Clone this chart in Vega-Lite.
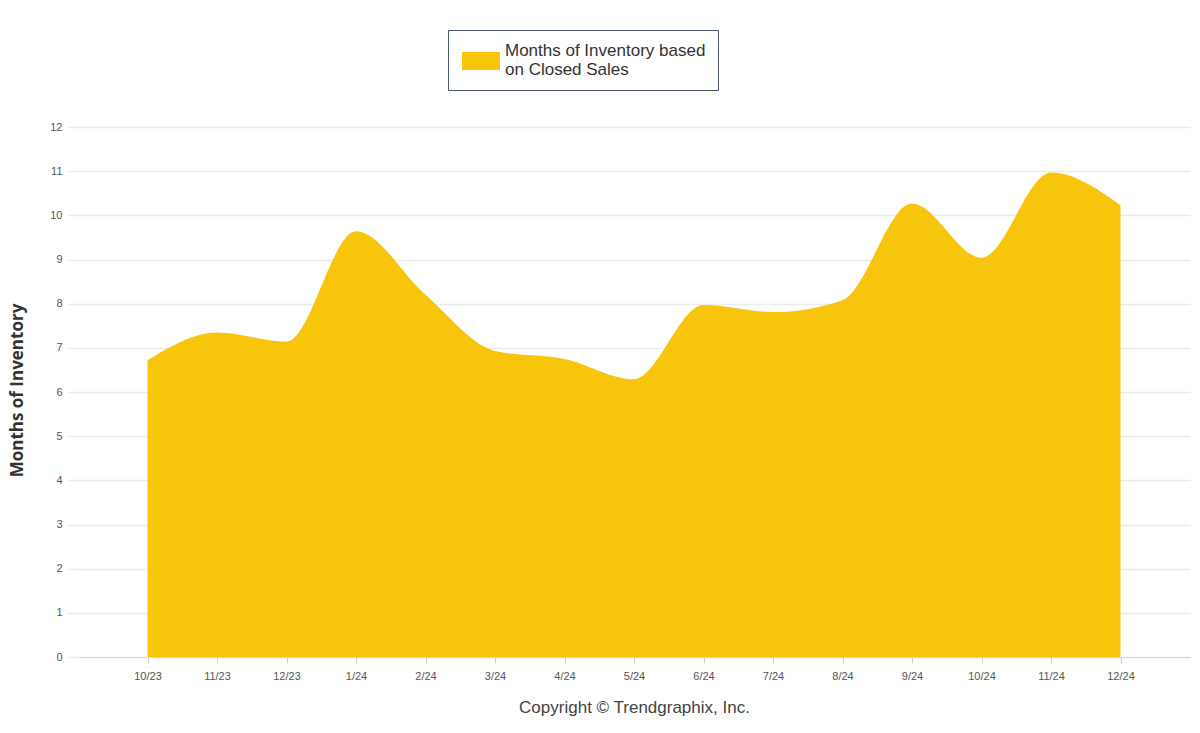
{
  "$schema": "https://vega.github.io/schema/vega-lite/v6.json",
  "width": 1112,
  "height": 530,
  "autosize": {"type": "none"},
  "padding": {"left": 78, "top": 127, "right": 10, "bottom": 76},
  "background": "white",
  "config": {"view": {"stroke": null}, "font": "Liberation Sans"},
  "data": {
    "values": [
      {"month": "10/23", "value": 6.72, "series": "Months of Inventory based on Closed Sales"},
      {"month": "11/23", "value": 7.35, "series": "Months of Inventory based on Closed Sales"},
      {"month": "12/23", "value": 7.14, "series": "Months of Inventory based on Closed Sales"},
      {"month": "1/24", "value": 9.64, "series": "Months of Inventory based on Closed Sales"},
      {"month": "2/24", "value": 8.2, "series": "Months of Inventory based on Closed Sales"},
      {"month": "3/24", "value": 6.93, "series": "Months of Inventory based on Closed Sales"},
      {"month": "4/24", "value": 6.75, "series": "Months of Inventory based on Closed Sales"},
      {"month": "5/24", "value": 6.29, "series": "Months of Inventory based on Closed Sales"},
      {"month": "6/24", "value": 7.97, "series": "Months of Inventory based on Closed Sales"},
      {"month": "7/24", "value": 7.81, "series": "Months of Inventory based on Closed Sales"},
      {"month": "8/24", "value": 8.08, "series": "Months of Inventory based on Closed Sales"},
      {"month": "9/24", "value": 10.27, "series": "Months of Inventory based on Closed Sales"},
      {"month": "10/24", "value": 9.04, "series": "Months of Inventory based on Closed Sales"},
      {"month": "11/24", "value": 10.97, "series": "Months of Inventory based on Closed Sales"},
      {"month": "12/24", "value": 10.23, "series": "Months of Inventory based on Closed Sales"}
    ]
  },
  "mark": {"type": "area", "interpolate": "monotone", "opacity": 1},
  "encoding": {
    "x": {
      "field": "month",
      "type": "ordinal",
      "sort": null,
      "scale": {"type": "point", "padding": 1.02},
      "axis": {
        "title": "Copyright © Trendgraphix, Inc.",
        "labelAngle": 0,
        "labelFontSize": 11,
        "labelColor": "#555555",
        "tickSize": 6,
        "tickColor": "#cccccc",
        "domainColor": "#d8d8d8",
        "labelPadding": 7,
        "titleFontSize": 17,
        "titleFontWeight": "normal",
        "titleColor": "#444444",
        "titlePadding": 18,
        "grid": false
      }
    },
    "y": {
      "field": "value",
      "type": "quantitative",
      "scale": {"domain": [0, 12], "nice": false},
      "axis": {
        "values": [0, 1, 2, 3, 4, 5, 6, 7, 8, 9, 10, 11, 12],
        "title": "Months of Inventory",
        "titleFont": "Open Sans",
        "titleFontSize": 17,
        "titleFontWeight": "bold",
        "titleColor": "#333333",
        "titleAngle": 270,
        "titleX": -61,
        "titleY": 263,
        "titleAlign": "center",
        "titleBaseline": "middle",
        "labelFontSize": 11,
        "labelColor": "#555555",
        "labelPadding": 5,
        "domain": false,
        "tickSize": 11,
        "tickColor": "#ebebeb",
        "tickWidth": 1.5,
        "grid": true,
        "gridColor": "#ebebeb",
        "gridWidth": 1.5
      }
    },
    "color": {
      "field": "series",
      "type": "nominal",
      "scale": {"range": ["#f7c50c"]},
      "legend": {
        "title": null,
        "orient": "none",
        "legendX": 370,
        "legendY": -97,
        "padding": 12,
        "strokeColor": "#4a5672",
        "fillColor": "white",
        "labelFontSize": 17,
        "labelColor": "#333333",
        "labelOffset": 5,
        "labelLimit": 400,
        "symbolOffset": 2,
        "symbolType": "M-1,-0.47H1V0.47H-1Z",
        "symbolSize": 1444,
        "symbolStrokeWidth": 0,
        "symbolOpacity": 1,
        "labelExpr": "['Months of Inventory based', 'on Closed Sales']",
        "encode": {"labels": {"update": {"lineHeight": {"value": 19}, "dy": {"value": -10}}}}
      }
    }
  }
}
